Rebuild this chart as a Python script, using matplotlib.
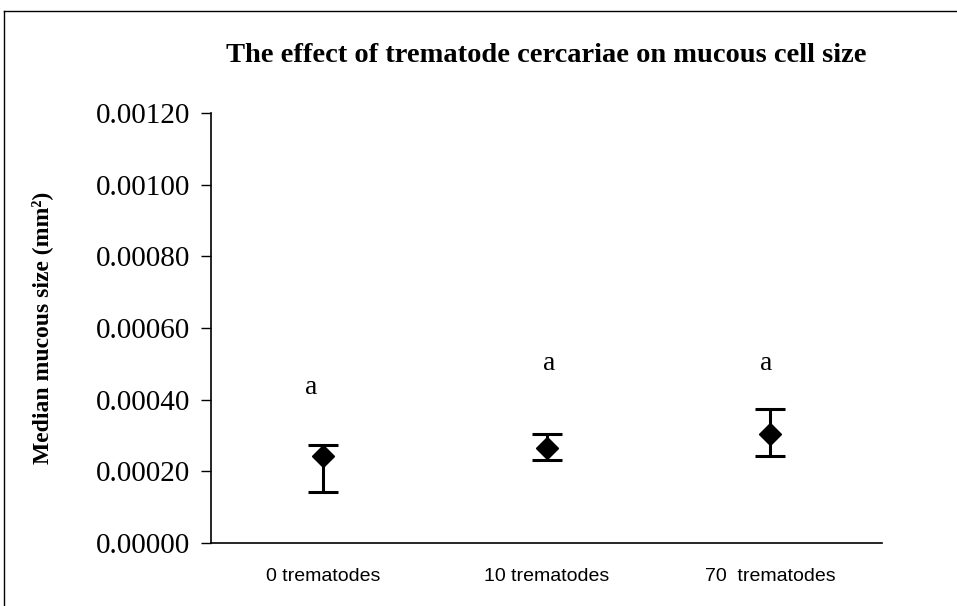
import matplotlib
matplotlib.use("Agg")
import matplotlib.pyplot as plt
from matplotlib.lines import Line2D

categories = ["0 trematodes", "10 trematodes", "70  trematodes"]
medians = [0.000243, 0.000264, 0.000303]
upper = [0.000273, 0.000303, 0.000373]
lower = [0.000143, 0.000232, 0.000243]
sig_letters = ["a", "a", "a"]
sig_y = [0.000416, 0.000483, 0.000483]
sig_dx = [-0.05, 0.01, -0.02]
yticks = [0.0, 0.0002, 0.0004, 0.0006, 0.0008, 0.0010, 0.0012]

W, H = 957, 606
fig = plt.figure(figsize=(W / 100, H / 100), dpi=100)
ax = fig.add_axes([211 / W, 1 - 543 / H, (882 - 211) / W, (543 - 113) / H])

x = list(range(len(categories)))
yerr = [[m - l for m, l in zip(medians, lower)], [u - m for u, m in zip(upper, medians)]]
ax.errorbar(x, medians, yerr=yerr, fmt="D", color="black", ms=11,
            elinewidth=2.2, capsize=11, capthick=2.2, zorder=3)

for xi, yi, s, dx in zip(x, sig_y, sig_letters, sig_dx):
    ax.text(xi + dx, yi, s, ha="center", va="baseline",
            family="Liberation Serif", fontsize=20)

ax.set_xlim(-0.5, len(categories) - 0.5)
ax.set_ylim(0, 0.0012)
ax.set_yticks(yticks)
ax.set_yticklabels([f"{v:.5f}" for v in yticks], family="Liberation Serif", fontsize=21)
ax.set_xticks(x)
ax.set_xticklabels(categories, family="Liberation Sans", fontsize=14)
ax.tick_params(axis="x", length=0, pad=18)
ax.tick_params(axis="y", length=7, width=1, direction="out", pad=8)
ax.spines["top"].set_visible(False)
ax.spines["right"].set_visible(False)
for s in ["left", "bottom"]:
    ax.spines[s].set_linewidth(1.2)

ax.set_title("The effect of trematode cercariae on mucous cell size",
             family="Liberation Serif", fontweight="bold", fontsize=20.5, pad=37)
ax.set_ylabel("Median mucous size (mm²)", family="Liberation Serif",
              fontweight="bold", fontsize=17, labelpad=31)

# outer frame
fig.add_artist(Line2D([4 / W, 4 / W], [0, 1 - 11 / H], transform=fig.transFigure, color="black", lw=1))
fig.add_artist(Line2D([4 / W, 1], [1 - 11 / H, 1 - 11 / H], transform=fig.transFigure, color="black", lw=1))

fig.savefig("out.png", dpi=100)
